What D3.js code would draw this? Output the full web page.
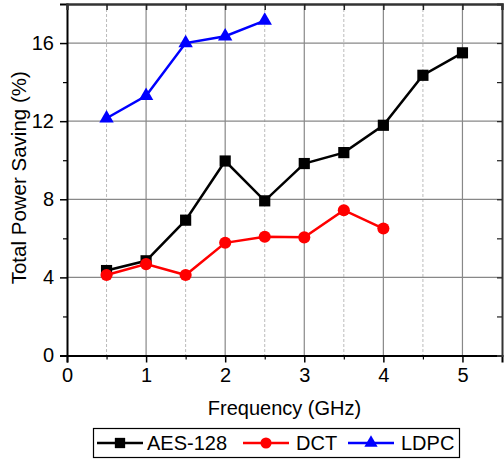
<!DOCTYPE html>
<html><head><meta charset="utf-8">
<script src="https://cdn.jsdelivr.net/npm/d3@7"></script>
<style>body{margin:0;background:#fff}svg{display:block}text{font-family:"Liberation Sans",Arial,sans-serif}</style>
</head><body><svg id="c" width="504" height="462"></svg>
<script>
const freqs = [0.5,1,1.5,2,2.5,3,3.5,4,4.5,5];
const aes = [4.35,4.85,6.93,9.96,7.92,9.83,10.39,11.79,14.35,15.5];
const dctFreqs = [0.5,1,1.5,2,2.5,3,3.5,4];
const dct = [4.12,4.68,4.12,5.77,6.08,6.05,7.44,6.5];
const ldpcFreqs = [0.5,1,1.5,2,2.5];
const ldpc = [12.15,13.3,16.0,16.35,17.15];
const xTicks = [0,1,2,3,4,5];
const yTicks = [0,4,8,12,16];
const seriesNames = ["AES-128","DCT","LDPC"];

const svg = d3.select("#c");
const L=67,R=502,T=4,B=355.5;
const x = d3.scaleLinear().domain([0,5.5]).range([L,R]);
const y = d3.scaleLinear().domain([0,18]).range([B,T]);
const g = svg.append("g");

// grid
const xMinor = d3.range(0.5,5.5,1);
g.selectAll(".gm").data(xMinor).enter().append("line")
 .attr("x1",d=>x(d)).attr("x2",d=>x(d)).attr("y1",T).attr("y2",B)
 .attr("stroke","#bbb").attr("stroke-width",1).attr("stroke-dasharray","3,2");
g.selectAll(".gx").data([1,2,3,4,5]).enter().append("line")
 .attr("x1",d=>x(d)).attr("x2",d=>x(d)).attr("y1",T).attr("y2",B)
 .attr("stroke","#888").attr("stroke-width",1.2);
g.selectAll(".gy").data([4,8,12,16]).enter().append("line")
 .attr("y1",d=>y(d)).attr("y2",d=>y(d)).attr("x1",L).attr("x2",R)
 .attr("stroke","#888").attr("stroke-width",1.2);

// axes
const fs = "20px";
const xAxis = d3.axisBottom(x).tickValues(xTicks).tickFormat(d3.format("d")).tickSize(7).tickPadding(5);
const gx = svg.append("g").attr("transform",`translate(0,${B})`).call(xAxis);
gx.selectAll("text").style("font-size",fs).style("font-family","'Liberation Sans',Arial,sans-serif").attr("fill","#000");
gx.select(".domain").attr("stroke","#000").attr("stroke-width",2);
gx.selectAll(".tick line").attr("stroke","#000").attr("stroke-width",1.5);
const gxm = svg.append("g").attr("transform",`translate(0,${B})`).call(d3.axisBottom(x).tickValues(xMinor).tickSize(4).tickFormat(""));
gxm.select(".domain").remove(); gxm.selectAll(".tick line").attr("stroke","#000").attr("stroke-width",1.2);

const yAxis = d3.axisLeft(y).tickValues(yTicks).tickFormat(d3.format("d")).tickSize(7).tickPadding(6);
const gy = svg.append("g").attr("transform",`translate(${L},0)`).call(yAxis);
gy.selectAll("text").style("font-size",fs).style("font-family","'Liberation Sans',Arial,sans-serif").attr("fill","#000");
gy.select(".domain").attr("stroke","#000").attr("stroke-width",2);
gy.selectAll(".tick line").attr("stroke","#000").attr("stroke-width",1.5);
const gym = svg.append("g").attr("transform",`translate(${L},0)`).call(d3.axisLeft(y).tickValues([2,6,10,14]).tickSize(4).tickFormat(""));
gym.select(".domain").remove(); gym.selectAll(".tick line").attr("stroke","#000").attr("stroke-width",1.2);

// top and right
const gt = svg.append("g").attr("transform",`translate(0,${T})`).call(d3.axisTop(x).tickValues(d3.range(0.5,5.5,0.5)).tickSize(-6).tickFormat(""));
gt.select(".domain").attr("stroke","#333").attr("stroke-width",2.5);
gt.selectAll(".tick line").attr("stroke","#222").attr("stroke-width",1.5);
const gr = svg.append("g").attr("transform",`translate(${R},0)`).call(d3.axisRight(y).tickValues(d3.range(2,18,2)).tickSize(-5).tickFormat(""));
gr.select(".domain").attr("stroke","#333").attr("stroke-width",2);
gr.selectAll(".tick line").attr("stroke","#222").attr("stroke-width",1.2);

// titles
svg.append("text").attr("x",(L+R)/2).attr("y",415).attr("text-anchor","middle").style("font-size","20px").text("Frequency (GHz)");
svg.append("text").attr("transform",`translate(26,${(T+B)/2-2}) rotate(-90)`).attr("text-anchor","middle").style("font-size","20.5px").text("Total Power Saving (%)");

// series
const line = d3.line().x(d=>x(d[0])).y(d=>y(d[1]));
const series = [
 {name:seriesNames[0], data:d3.zip(freqs,aes), color:"#000", sym:d3.symbolSquare, size:125},
 {name:seriesNames[1], data:d3.zip(dctFreqs,dct), color:"#f00", sym:d3.symbolCircle, size:115},
 {name:seriesNames[2], data:d3.zip(ldpcFreqs,ldpc), color:"#00f", sym:d3.symbolTriangle, size:90},
];
series.forEach(s=>{
  svg.append("path").attr("d",line(s.data)).attr("fill","none").attr("stroke",s.color).attr("stroke-width",2.5);
  svg.selectAll(null).data(s.data).enter().append("path")
   .attr("d",d3.symbol().type(s.sym).size(s.size))
   .attr("transform",d=>`translate(${x(d[0])},${y(d[1])})`).attr("fill",s.color);
});

// legend
const lg = svg.append("g");
lg.append("rect").attr("x",93.5).attr("y",428.5).attr("width",366).attr("height",29).attr("fill","#fff").attr("stroke","#000").attr("stroke-width",1.2);
const lx = [97,243,348];
const tx = [147,296,401];
series.forEach((s,i)=>{
  const cy=443;
  lg.append("line").attr("x1",lx[i]).attr("x2",lx[i]+46).attr("y1",cy).attr("y2",cy).attr("stroke",s.color).attr("stroke-width",2.5);
  lg.append("path").attr("d",d3.symbol().type(s.sym).size(s.size*0.85)).attr("transform",`translate(${lx[i]+23},${cy})`).attr("fill",s.color);
  lg.append("text").attr("x",tx[i]).attr("y",cy+7).style("font-size","20px").text(s.name);
});
</script></body></html>
